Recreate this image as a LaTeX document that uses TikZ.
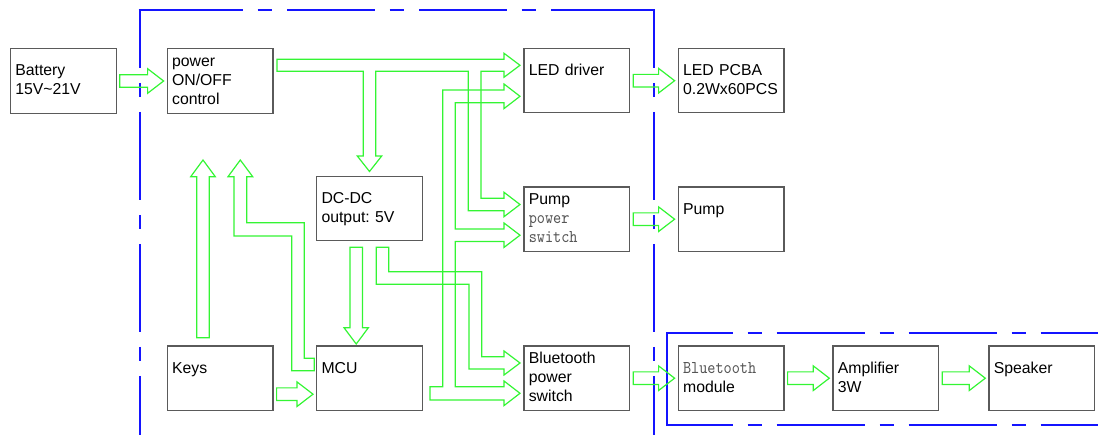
\documentclass[tikz,border=0pt]{standalone}
\usepackage{fontspec}
\setmainfont{Liberation Sans}
\newfontfamily\lmmono{lmmono10-regular.otf}[FakeStretch=0.86]
\usetikzlibrary{positioning,calc}

\definecolor{boxgray}{RGB}{90,90,90}
\definecolor{flowgreen}{RGB}{51,245,51}
\definecolor{frameblue}{RGB}{20,20,255}
\definecolor{monogray}{RGB}{85,85,85}

% hollow block arrow between two points at the same height
\newcommand{\flowarrow}[2]{%
  \draw[flow] ($#1+(3,-6.3)$) -- ($#2+(-19,-6.3)$) -- ($#2+(-19,-12.3)$)
    -- ($#2+(-3,0)$) -- ($#2+(-19,12.3)$) -- ($#2+(-19,6.3)$)
    -- ($#1+(3,6.3)$) -- cycle;}
\newcommand{\monotext}[1]{{\lmmono\fontsize{18}{19}\selectfont\color{monogray}#1}}

\begin{document}
\begin{tikzpicture}[
    x=1pt, y=-1pt,
    box/.style={draw=boxgray, line width=1.2pt, fill=white, minimum width=105.8pt, minimum height=64.3pt,
        text width=96pt, inner xsep=4.9pt, inner ysep=0pt, align=left,
        font=\fontsize{15.8}{19}\selectfont\frenchspacing,
        execute at begin node=\rule[-5pt]{0pt}{19pt}, execute at end node=\rule[-5pt]{0pt}{19pt}},
    oneline/.style={text depth=24pt},
    flow/.style={draw=flowgreen, line width=1.2pt},
    frame/.style={draw=frameblue, line width=2pt, dash pattern=on 88pt off 15pt on 14.5pt off 14.5pt}
]
    \useasboundingbox (0,0) rectangle (1098,435);

    % Frames
    \draw[frame, dash phase=30pt] (139.6,9.8) -- (139.6,440);
    \draw[frame, dash phase=30pt] (654.3,9.8) -- (654.3,440);
    \draw[frame, dash pattern=on 104pt off 15pt on 14.5pt off 15pt on 87.5pt off 15pt on 14.5pt off 15pt
        on 87.5pt off 15pt on 14.5pt off 15pt on 120pt off 10pt] (138.6,9.8) -- (655.3,9.8);
    \draw[frame, dash phase=22pt] (666.7,333.3) -- (1100,333.3);
    \draw[frame, dash phase=22pt] (666.7,425) -- (1100,425);
    \draw[frame, solid] (666.7,332.3) -- (666.7,426);

    % Blocks
    \node[box] (battery) at (63.3,81) {Battery\\15V\textasciitilde21V};
    \node[box, right=49.8pt of battery] (power) {power\\ON/OFF\\control};
    \node[box, oneline, below=231.7pt of power] (keys) {Keys};
    \node[box, oneline, right=42.4pt of keys] (mcu) {MCU};
    \node[box, above=104pt of mcu] (dcdc) {DC-DC\\output: 5V};
    \node[box, right=100.3pt of mcu] (btsw) {Bluetooth\\power\\switch};
    \node[box, above=93.5pt of btsw] (pumpsw) {Pump\\\monotext{power}\\\monotext{switch}};
    \node[box, oneline, above=73pt of pumpsw] (led) {LED driver};
    \node[box, right=47.3pt of led] (pcba) {LED PCBA\\0.2Wx60PCS};
    \node[box, oneline, right=47.3pt of pumpsw] (pump) {Pump};
    \node[box, right=47.3pt of btsw] (btmod) {\monotext{Bluetooth}\\module};
    \node[box, right=47.7pt of btmod] (amp) {Amplifier\\3W};
    \node[box, oneline, right=49pt of amp] (spk) {Speaker};

    % Straight flows
    \flowarrow{(battery.east)}{(power.west)}
    \flowarrow{(led.east)}{(pcba.west)}
    \flowarrow{(pumpsw.east)}{(pump.west)}
    \flowarrow{(btsw.east)}{(btmod.west)}
    \flowarrow{(btmod.east)}{(amp.west)}
    \flowarrow{(amp.east)}{(spk.west)}
    \flowarrow{(keys.east)+(0,16)}{(mcu.west)+(0,16)}

    % power control to LED driver, DC-DC and pump switch
    \draw[flow] (277,59.3) -- (504,59.3) -- (504,53.3) -- (520,65.3) -- (504,77.3) -- (504,71.3)
        -- (481,71.3) -- (481,198.3) -- (504,198.3) -- (504,192.3) -- (520,204.5) -- (504,216.7)
        -- (504,210.7) -- (468.3,210.7) -- (468.3,71.3) -- (375.7,71.3) -- (375.7,156) -- (381.7,156)
        -- (369.5,171.5) -- (357.3,156) -- (363.3,156) -- (363.3,71.3) -- (277,71.3) -- cycle;

    % MCU to bluetooth switch, pump switch and LED driver
    \draw[flow] (430,386.7) -- (442.7,386.7) -- (442.7,90) -- (504,90) -- (504,84) -- (520,96.3)
        -- (504,108.6) -- (504,102.7) -- (455.3,102.7) -- (455.3,229) -- (504,229) -- (504,223)
        -- (520,235.2) -- (504,247.4) -- (504,241.5) -- (455.3,241.5) -- (455.3,386.7) -- (504,386.7)
        -- (504,381) -- (520,393.3) -- (504,405.6) -- (504,400) -- (430,400) -- cycle;

    % DC-DC to MCU and bluetooth switch
    \draw[flow] (350,247.3) -- (350,327.7) -- (344,327.7) -- (356.2,344) -- (368.4,327.7)
        -- (362.4,327.7) -- (362.4,247.3) -- cycle;
    \draw[flow] (376.3,247.3) -- (388.7,247.3) -- (388.7,271.7) -- (481.7,271.7) -- (481.7,356.7)
        -- (504,356.7) -- (504,351) -- (520,363) -- (504,375) -- (504,369) -- (469,369)
        -- (469,284.3) -- (376.3,284.3) -- cycle;

    % keys and MCU up to power control
    \draw[flow] (196.7,337.7) -- (196.7,176.7) -- (190.7,176.7) -- (203,160) -- (215.3,176.7)
        -- (209.3,176.7) -- (209.3,337.7) -- cycle;
    \draw[flow] (314.3,358.3) -- (304.3,358.3) -- (304.3,222.7) -- (246.7,222.7) -- (246.7,176.7)
        -- (252.7,176.7) -- (240.3,160) -- (228,176.7) -- (234,176.7) -- (234,236) -- (291.7,236)
        -- (291.7,370.7) -- (314.3,370.7) -- cycle;
\end{tikzpicture}
\end{document}
